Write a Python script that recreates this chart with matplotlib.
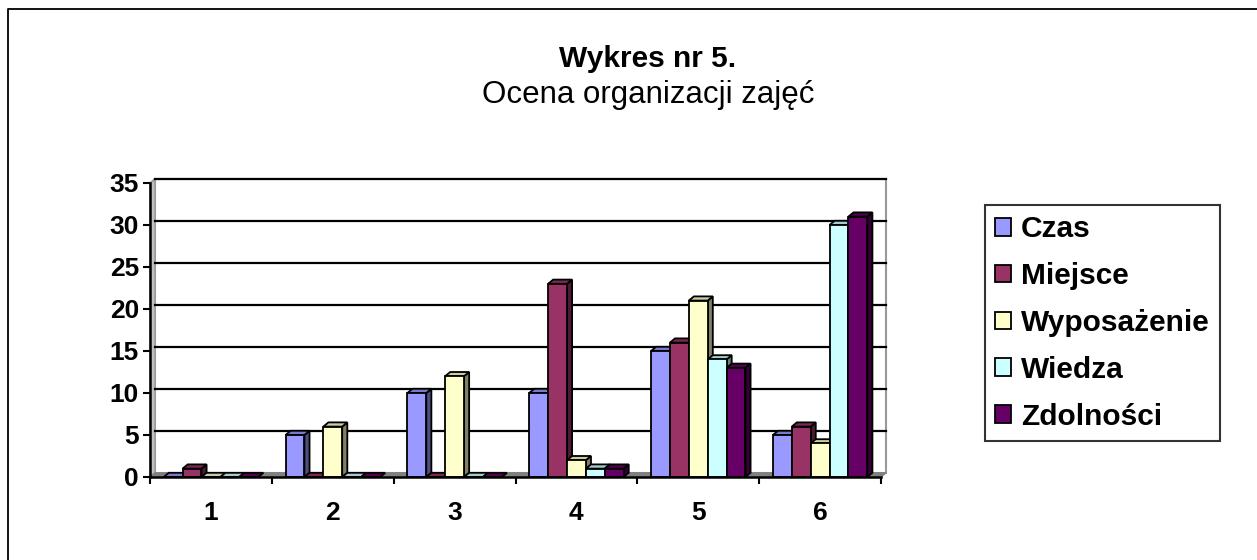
import matplotlib
matplotlib.use("Agg")
import matplotlib.pyplot as plt
from matplotlib.patches import Polygon, Rectangle
from matplotlib.colors import to_rgb

plt.rcParams["font.family"] = ["Liberation Sans", "DejaVu Sans"]

categories = ["1", "2", "3", "4", "5", "6"]
series_names = ["Czas", "Miejsce", "Wyposażenie", "Wiedza", "Zdolności"]
czas = [0, 5, 10, 10, 15, 5]
miejsce = [1, 0, 0, 23, 16, 6]
wyposazenie = [0, 6, 12, 2, 21, 4]
wiedza = [0, 0, 0, 1, 14, 30]
zdolnosci = [0, 0, 0, 1, 13, 31]
series_values = [czas, miejsce, wyposazenie, wiedza, zdolnosci]
colors = ["#9999FF", "#993366", "#FFFFCC", "#CCFFFF", "#660066"]


def shade(c, f):
    r, g, b = to_rgb(c)
    return (r * f, g * f, b * f)


fig = plt.figure(figsize=(12.57, 5.6), dpi=100)
ax = fig.add_axes([150 / 1257, 83 / 560, 731 / 1257, 294 / 560])
ax.set_xlim(0.5, len(categories) + 0.5)
ax.set_ylim(0, 35)
for s in ax.spines.values():
    s.set_visible(False)

# depth of the fake 3d effect in data units
dx, dy = 0.042, 0.5
n = len(categories)
x_left, x_right = 0.5, n + 0.5

# back wall, side wall and floor
ax.add_patch(Polygon([(x_left + dx, dy), (x_right + dx, dy), (x_right + dx, 35 + dy),
                      (x_left + dx, 35 + dy)], closed=True, facecolor="white",
                     edgecolor="#999999", lw=1.5, clip_on=False, zorder=0))
ax.add_patch(Polygon([(x_left, 0), (x_left + dx, dy), (x_left + dx, 35 + dy), (x_left, 35)],
                     closed=True, facecolor="#c0c0c0", edgecolor="#999999", lw=1.2,
                     clip_on=False, zorder=0.5))
ax.add_patch(Polygon([(x_left, 0), (x_right, 0), (x_right + dx, dy), (x_left + dx, dy)],
                     closed=True, facecolor="#808080", edgecolor="#808080", lw=1,
                     clip_on=False, zorder=0.5))
for v in range(5, 36, 5):
    ax.plot([x_left + dx, x_right + dx], [v + dy, v + dy], color="black", lw=1.6,
            clip_on=False, zorder=0.6)

bar_w = 0.155
n_series = len(series_names)
z = 2
for ci in range(n):
    for si in range(n_series):
        h = series_values[si][ci]
        x0 = ci + 1 - bar_w * n_series / 2 + si * bar_w
        col = colors[si]
        ax.bar(x0, h, width=bar_w, align="edge", color=col, edgecolor="black",
               lw=1.3, zorder=z + 0.2)
        ax.add_patch(Polygon([(x0 + bar_w, 0), (x0 + bar_w + dx, dy), (x0 + bar_w + dx, h + dy),
                              (x0 + bar_w, h)], closed=True, facecolor=shade(col, 0.5),
                             edgecolor="black", lw=1.3, clip_on=False, zorder=z))
        ax.add_patch(Polygon([(x0, h), (x0 + bar_w, h), (x0 + bar_w + dx, h + dy),
                              (x0 + dx, h + dy)], closed=True, facecolor=shade(col, 0.8),
                             edgecolor="black", lw=1.3, clip_on=False, zorder=z + 0.1))
        z += 1

# axes lines
ax.plot([x_left, x_left], [0, 35], color="black", lw=1.8, clip_on=False, zorder=200)
ax.plot([x_left, x_right], [0, 0], color="black", lw=1.8, clip_on=False, zorder=200)

ax.set_yticks(range(0, 36, 5))
ax.set_yticklabels([str(v) for v in range(0, 36, 5)], fontsize=19, fontweight="bold")
ax.tick_params(axis="y", length=5, width=1.5, pad=3)
ax.set_xticks([i + 0.5 for i in range(n + 1)])
ax.set_xticklabels([])
ax.set_xticks(range(1, n + 1), minor=True)
ax.set_xticklabels(categories, minor=True, fontsize=19, fontweight="bold")
ax.tick_params(axis="x", which="major", length=5, width=1.5)
ax.tick_params(axis="x", which="minor", length=0, pad=17)

fig.text(0.5155, 0.895, "Wykres nr 5.", ha="center", va="center", fontsize=21.5,
         fontweight="bold")
fig.text(0.5155, 0.83, "Ocena organizacji zajęć", ha="center", va="center", fontsize=22.5)

handles = [Rectangle((0, 0), 1, 1, facecolor=c, edgecolor="black", lw=1.3) for c in colors]
leg = fig.legend(handles, series_names, loc="upper left", bbox_to_anchor=(0.7836, 0.634),
                 prop={"size": 21.5, "weight": "bold"}, frameon=True, fancybox=False,
                 edgecolor="black", labelspacing=0.63, handlelength=0.53, handleheight=0.53,
                 handletextpad=0.33, borderpad=0.35, borderaxespad=0)
leg.get_frame().set_linewidth(1.5)

# outer chart border: only top and left edges are inside the picture
fig.add_artist(plt.Line2D([8 / 1257, 8 / 1257, 1], [0, 1 - 9 / 560, 1 - 9 / 560],
                          transform=fig.transFigure, color="black", lw=1.3))

fig.savefig("out.png", dpi=100)
